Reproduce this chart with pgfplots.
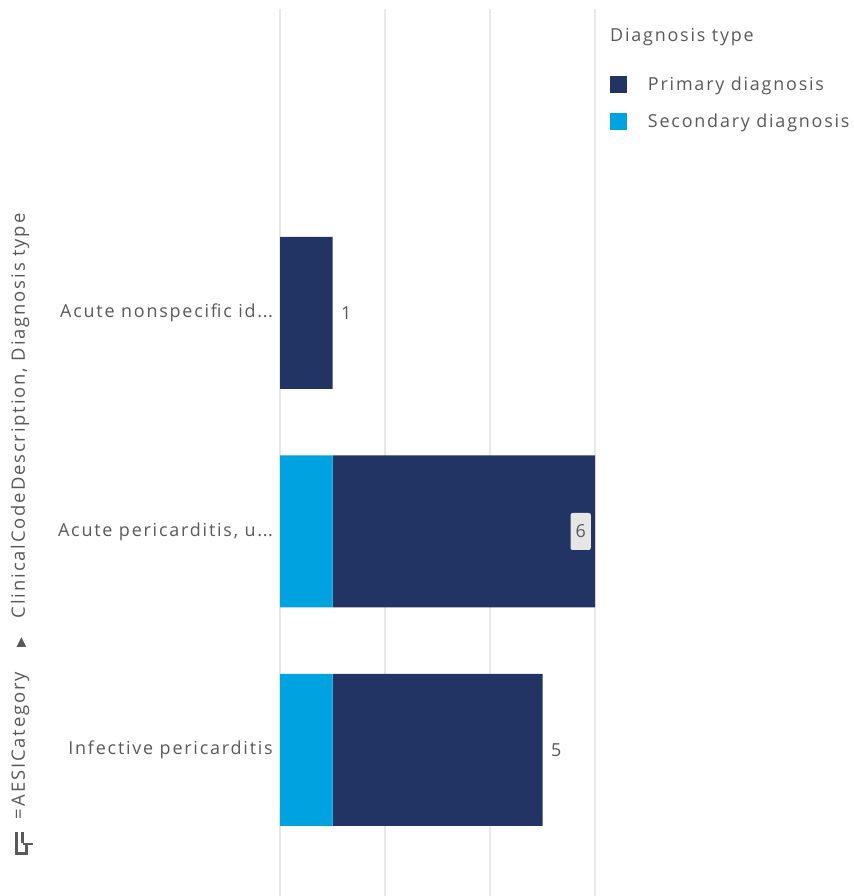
\documentclass[border=0pt]{standalone}
\usepackage{pgfplots}
\pgfplotsset{compat=1.18}
\usepackage{fontspec}
\setmainfont[LetterSpace=10]{Open Sans}
\newfontfamily\symfont{DejaVu Sans}

\definecolor{primary}{HTML}{223463}
\definecolor{secondary}{HTML}{00A3E0}
\definecolor{labelgray}{HTML}{595959}
\definecolor{gridgray}{HTML}{E8E8E8}
\definecolor{boxgray}{HTML}{E6E6E6}

\newcommand{\dotsend}{.\kern0.5pt.\kern0.5pt.}
\newcommand{\labelfont}{\fontsize{18}{21}\selectfont}

% counts per clinical code (0 = bottom row)
\pgfplotstableread{
pos secondary primary
0   1         4
1   1         5
2   0         1
}\diagdata

% bar totals, split by where the value label sits
\pgfplotstableread{
pos total
0   5
2   1
}\outsidetotals
\pgfplotstableread{
pos total
1   6
}\insidetotals

\pgfplotsset{
  diagaxis/.style={
    at={(280bp,0bp)}, anchor=south west,
    scale only axis, width=315bp, height=887bp,
    xmin=0, xmax=6, ymin=-0.6682, ymax=3.3913,
    bar width=152bp, clip=false,
  },
}

\begin{document}
\begin{tikzpicture}
\useasboundingbox (0,0) rectangle (854bp,896bp);

\begin{axis}[
  diagaxis,
  xbar stacked, bar shift=0pt,
  axis line style={draw=none},
  xtick={0,2,4,6}, xticklabels={},
  xmajorgrids, major grid style={gridgray, line width=1.3bp},
  ytick={0,1,2},
  yticklabels={{Infective pericarditis}, {Acute pericarditis, u\dotsend}, {Acute nonspecific id\dotsend}},
  yticklabel style={font=\labelfont, text=labelgray, anchor=east, inner sep=0pt, xshift=-7bp},
  major tick length=0pt,
  reverse legend,
  legend style={
    at={(axis description cs:1.0476,0.9245)}, anchor=north west,
    draw=none, fill=none, inner sep=0pt, outer sep=0pt,
    font=\labelfont, text=labelgray,
    row sep=20bp, column sep=21bp,
    nodes={inner sep=0pt},
  },
  legend cell align=left,
  legend image code/.code={\fill[#1] (0bp,-8.5bp) rectangle (17bp,8.5bp);},
]
\addplot[fill=secondary, draw=none] table[x=secondary, y=pos] {\diagdata};
\addlegendentry{Secondary diagnosis}
\addplot[fill=primary, draw=none] table[x=primary, y=pos] {\diagdata};
\addlegendentry{Primary diagnosis}
\end{axis}

% value labels at the bar totals
\begin{axis}[diagaxis, hide axis, xbar, bar shift=0pt,
  /pgf/number format/assume math mode=true]
\addplot[draw=none, fill=none, nodes near coords, point meta=explicit,
  every node near coord/.append style={anchor=west, xshift=5bp, text=labelgray,
    font=\labelfont}]
  table[x=total, y=pos, meta=total] {\outsidetotals};
\addplot[draw=none, fill=none, nodes near coords, point meta=explicit,
  every node near coord/.append style={anchor=east, xshift=-4bp, text=labelgray,
    fill=boxgray, rounded corners=2bp, minimum height=37bp, inner xsep=5bp,
    font=\labelfont}]
  table[x=total, y=pos, meta=total] {\insidetotals};
\end{axis}

% legend heading
\node[anchor=west, inner sep=0pt, text=labelgray, font=\labelfont]
  at (610bp,859bp) {Diagnosis type};

% dimension title along the left edge
\node[rotate=90, anchor=west, inner sep=0pt, text=labelgray, font=\fontsize{18.5}{21}\selectfont]
  at (20bp,76bp) {=\,AESICategory\hspace{24bp}{\symfont\fontsize{13}{14}\selectfont ▶}\hspace{20bp}ClinicalCodeDescription, Diagnosis type};

% exploration icon
\begin{scope}[yscale=-1, yshift=-896bp]
\fill[labelgray] (15bp,832bp) rectangle (18bp,853bp);
\fill[labelgray] (21bp,832bp) rectangle (24bp,843bp);
\fill[labelgray] (15bp,852bp) rectangle (28bp,855bp);
\fill[labelgray] (25bp,843bp) rectangle (28bp,855bp);
\fill[labelgray] (23bp,843bp) rectangle (33bp,845bp);
\end{scope}
\end{tikzpicture}
\end{document}
